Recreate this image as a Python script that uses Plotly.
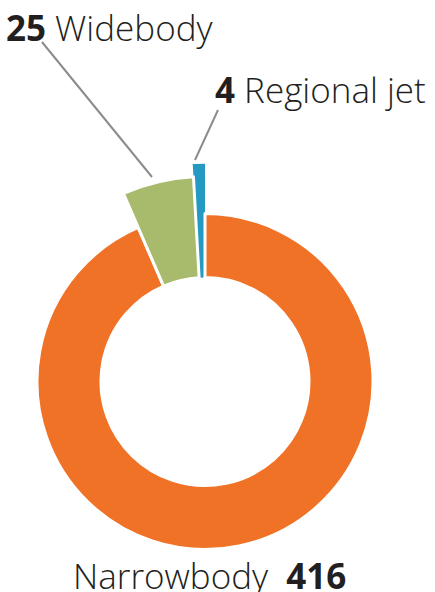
import math
import plotly.graph_objects as go

# ---- data ----
categories = ["Narrowbody", "Widebody", "Regional jet"]
values = [416, 25, 4]
colors = ["#F07226", "#A8BA6C", "#2499C1"]

W, H = 435, 592
CX, CY = 205, 381.5          # donut centre in px (from top-left)
R_ring, R_hole = 168, 104    # main ring
R_wide, R_reg = 205, 218     # outer radii of the exploded slices
TRANSP = "rgba(0,0,0,0)"

def px_x(x):
    return x / W

def px_y(y):
    return 1 - y / H

def dom(r):
    return dict(x=[px_x(CX - r), px_x(CX + r)], y=[px_y(CY + r), px_y(CY - r)])

fig = go.Figure()

# main orange ring
fig.add_trace(go.Pie(
    labels=categories, values=values, sort=False, direction="clockwise", rotation=0,
    hole=R_hole / R_ring, domain=dom(R_ring),
    marker=dict(colors=[colors[0], TRANSP, TRANSP],
                line=dict(color="white", width=[3, 0, 0])),
    textinfo="none", hoverinfo="label+value", showlegend=False,
))

# exploded widebody slice (longer radius)
fig.add_trace(go.Pie(
    labels=categories, values=values, sort=False, direction="clockwise", rotation=0,
    hole=R_hole / R_wide, domain=dom(R_wide),
    marker=dict(colors=[TRANSP, colors[1], TRANSP],
                line=dict(color="white", width=[0, 3, 0])),
    textinfo="none", hoverinfo="label+value", showlegend=False,
))

# regional jet slice: barpolar in a narrow sector polar so it can reach further out
total = sum(values)
reg_width = values[2] / total * 360
reg_theta = 360 - reg_width / 2
fig.add_trace(go.Barpolar(
    r=[R_reg - R_hole], base=[R_hole], theta=[reg_theta], width=[reg_width],
    marker=dict(color=colors[2], line=dict(color="white", width=0)),
    subplot="polar", showlegend=False, hoverinfo="skip",
))

half = math.sin(math.radians(10))
fig.update_layout(
    polar=dict(
        domain=dict(x=[px_x(CX - half * R_reg), px_x(CX + half * R_reg)],
                    y=[px_y(CY), px_y(CY - R_reg)]),
        sector=[80, 100], hole=0, bgcolor=TRANSP,
        radialaxis=dict(range=[0, R_reg], visible=False, showgrid=False, showline=False),
        angularaxis=dict(rotation=90, direction="clockwise", visible=False,
                         showgrid=False, showline=False),
    ),
)

# leader lines
line_style = dict(color="#8C8C8C", width=2)
fig.add_shape(type="line", xref="paper", yref="paper",
              x0=px_x(42), y0=px_y(42), x1=px_x(152), y1=px_y(177), line=line_style)
fig.add_shape(type="line", xref="paper", yref="paper",
              x0=px_x(218), y0=px_y(110), x1=px_x(195), y1=px_y(160), line=line_style)

font = dict(family="Open Sans", size=35, color="#231F20", weight=300)
fig.add_annotation(x=px_x(4), y=px_y(27), xref="paper", yref="paper",
                   xanchor="left", yanchor="middle", showarrow=False,
                   text=f"<b>{values[1]}</b> {categories[1]}", font=font)
fig.add_annotation(x=px_x(213), y=px_y(89.5), xref="paper", yref="paper",
                   xanchor="left", yanchor="middle", showarrow=False,
                   text=f"<b>{values[2]}</b> {categories[2]}", font=font)
fig.add_annotation(x=px_x(71), y=px_y(575), xref="paper", yref="paper",
                   xanchor="left", yanchor="middle", showarrow=False,
                   text=f"{categories[0]}\u00a0 <b>{values[0]}</b>", font=font)

fig.update_layout(
    width=W, height=H, margin=dict(l=0, r=0, t=0, b=0),
    paper_bgcolor="white", plot_bgcolor="white", showlegend=False,
)

fig.write_html("out.html", config={"displayModeBar": False},
               post_script="document.body.style.margin='0';document.body.style.overflow='hidden';")
